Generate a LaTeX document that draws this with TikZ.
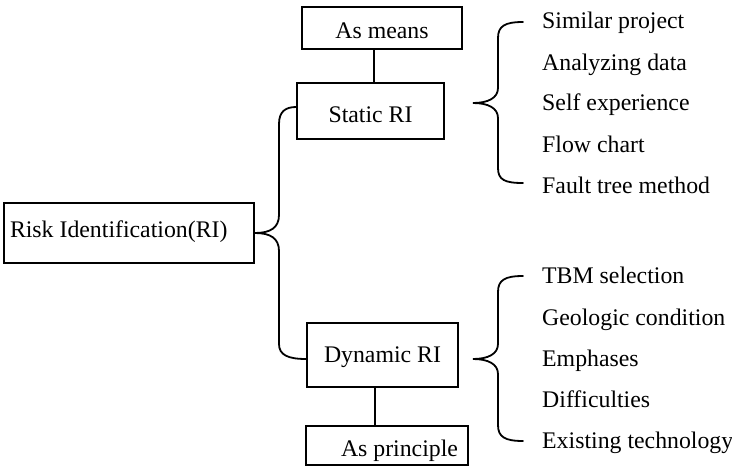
\documentclass[tikz,border=0pt]{standalone}
\usepackage{fontspec}
\setmainfont{Liberation Serif}
\begin{document}
\begin{tikzpicture}[x=1pt,y=-1pt,
  every node/.style={font=\fontsize{23.8}{28}\selectfont, inner sep=0pt},
  boxnode/.style={draw, line width=1.8pt},
  item/.style={anchor=base west},
  brace/.style={line width=1.8pt, line cap=round},
  link/.style={line width=1.4pt}]
\useasboundingbox (0,0) rectangle (732,466);

% boxes
\node[boxnode, minimum width=160pt, minimum height=42pt, text height=20pt, text depth=0pt] (means) at (382,28) {As means};
\node[boxnode, minimum width=147pt, minimum height=56pt, text height=22pt, text depth=0pt] (static) at (370.5,111) {Static RI};
\node[boxnode, minimum width=250pt, minimum height=60pt, text height=12pt, text depth=4pt] (risk) at (129,233) {\makebox[238pt][l]{Risk Identification(RI)}};
\node[boxnode, minimum width=151pt, minimum height=64pt, text height=14pt, text depth=0pt] (dynamic) at (382.5,355) {Dynamic RI};
\node[boxnode, minimum width=162pt, minimum height=39pt, text height=21pt, text depth=0pt] (principle) at (387,445.5) {\makebox[142pt][r]{As principle}};

% static items
\node[item] (s1) at (542,28) {Similar project};
\node[item] (s2) at (542,70) {Analyzing data};
\node[item] (s3) at (542,110) {Self experience};
\node[item] (s4) at (542,152) {Flow chart};
\node[item] (s5) at (542,193) {Fault tree method};

% dynamic items
\node[item] (d1) at (542,283) {TBM selection};
\node[item] (d2) at (542,325) {Geologic condition};
\node[item] (d3) at (542,366) {Emphases};
\node[item] (d4) at (542,407) {Difficulties};
\node[item] (d5) at (542,448) {Existing technology};

% vertical links
\draw[link] ([xshift=-8pt]means.south) -- ([xshift=-8pt]means.south |- static.north);
\draw[link] ([xshift=-7.5pt]dynamic.south) -- ([xshift=-7.5pt]dynamic.south |- principle.north);

% main brace
\draw[brace] (risk.east) .. controls (270,233) and (279,228) .. (279,215) -- (279,124)
  .. controls (279,112) and (285,107) .. ([yshift=4pt]static.west);
\draw[brace] (risk.east) .. controls (270,233) and (279,238) .. (279,251) -- (279,344)
  .. controls (279,355) and (288,359) .. ([yshift=-4pt]dynamic.west);

% static brace
\coordinate (st) at (523,22);
\coordinate (sb) at (523,183);
\coordinate (stip) at (473,103);
\draw[brace] (st) .. controls (505,22) and (498,26) .. (498,38) -- (498,88)
  .. controls (498,98) and (488,103) .. (stip)
  .. controls (488,103) and (498,108) .. (498,118) -- (498,168)
  .. controls (498,180) and (505,183) .. (sb);

% dynamic brace
\coordinate (dt) at (523,276);
\coordinate (db) at (523,441);
\coordinate (dtip) at (473,359);
\draw[brace] (dt) .. controls (505,276) and (498,280) .. (498,292) -- (498,344)
  .. controls (498,354) and (488,359) .. (dtip)
  .. controls (488,359) and (498,364) .. (498,374) -- (498,425)
  .. controls (498,437) and (505,441) .. (db);
\end{tikzpicture}
\end{document}
